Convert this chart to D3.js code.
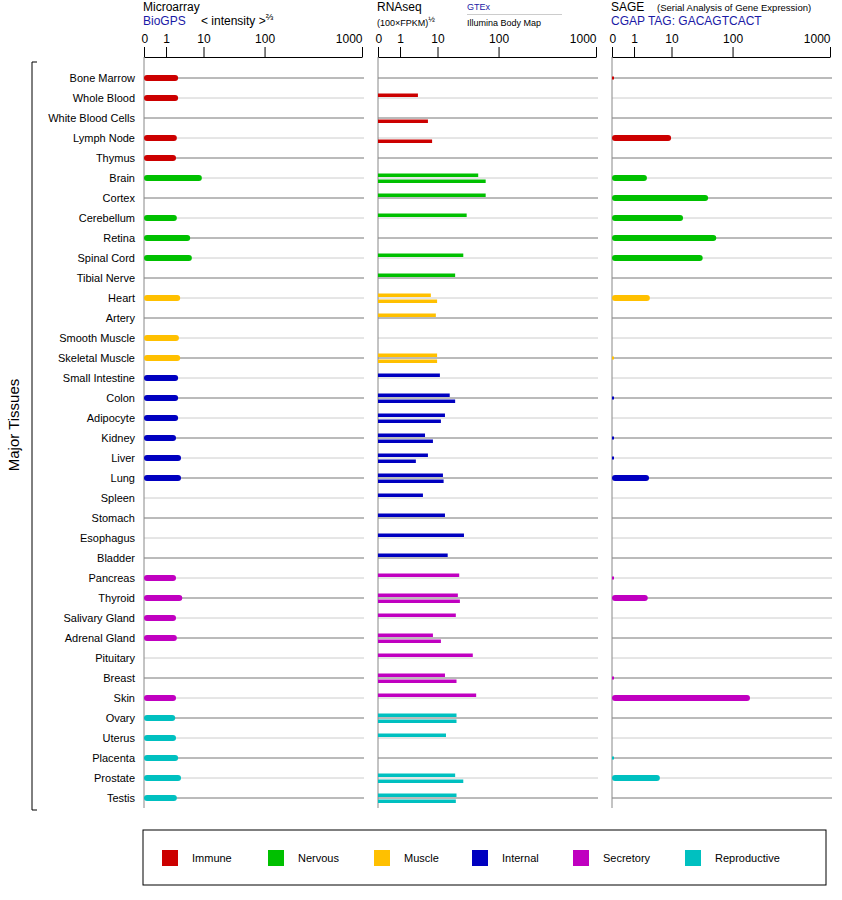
<!DOCTYPE html><html><head><meta charset="utf-8"><script src="https://cdn.jsdelivr.net/npm/d3@7"></script>
<style>body{margin:0;background:#fff}text{font-family:Arial,"Liberation Sans",sans-serif}</style></head><body><script>
const tissues=["Bone Marrow","Whole Blood","White Blood Cells","Lymph Node","Thymus","Brain","Cortex","Cerebellum","Retina","Spinal Cord","Tibial Nerve","Heart","Artery","Smooth Muscle","Skeletal Muscle","Small Intestine","Colon","Adipocyte","Kidney","Liver","Lung","Spleen","Stomach","Esophagus","Bladder","Pancreas","Thyroid","Salivary Gland","Adrenal Gland","Pituitary","Breast","Skin","Ovary","Uterus","Placenta","Prostate","Testis"];
const groups=["Immune","Immune","Immune","Immune","Immune","Nervous","Nervous","Nervous","Nervous","Nervous","Nervous","Muscle","Muscle","Muscle","Muscle","Internal","Internal","Internal","Internal","Internal","Internal","Internal","Internal","Internal","Internal","Secretory","Secretory","Secretory","Secretory","Secretory","Secretory","Secretory","Reproductive","Reproductive","Reproductive","Reproductive","Reproductive"];
const microarray=[3.9,3.9,null,3.6,3.4,9.6,null,3.6,6.8,7.2,null,4.4,null,4.1,4.4,3.9,3.9,3.9,3.4,4.6,4.6,null,null,null,null,3.4,4.9,3.4,3.6,null,null,3.4,3.2,3.4,3.9,4.6,3.6];
const gtex=[null,5.3,null,null,null,70,81,53,null,48,36,8.4,9.6,null,9.9,13.5,28,21,7.0,7.7,18,6.5,21,49,25,42,40,37,8.9,62,21,67,38,22.5,null,36,38];
const illumina=[null,null,7.7,8.7,null,81,null,null,null,null,null,9.9,null,null,9.9,null,36,15,8.9,4.8,19,null,null,null,null,null,43,null,15,null,38,null,38,null,null,48,37];
const sage=[0.1,null,null,9.9,null,4.1,64,27,76,56,null,4.8,null,null,0.05,null,0.1,null,0.1,0.1,4.6,null,null,null,null,0.1,4.3,null,null,null,0.1,261,null,null,0.1,7.2,null];
const tickVals=[0,1,10,100,1000];
const tickFrac=[0,0.101,0.273,0.553,1];
const groupNames=["Immune","Nervous","Muscle","Internal","Secretory","Reproductive"];
const groupColors=["#cc0000","#00c000","#ffc000","#0000c0","#c000c0","#00c0c0"];

const svg=d3.select("body").append("svg").attr("width",842).attr("height",900);
const color=d3.scaleOrdinal(groupNames,groupColors);
const y=d3.scalePoint(tissues,[78,798]);
const panels=[144,378,612],W=218,gridEnd=[364,598,832];
const xs=panels.map(p=>d3.scaleLinear(tickVals,tickFrac.map(f=>p+f*W)).clamp(true));

tissues.forEach((t,i)=>{panels.forEach((p,k)=>{svg.append("line").attr("x1",p).attr("x2",gridEnd[k]).attr("y1",y(t)).attr("y2",y(t)).attr("stroke",i%2?"#cccccc":"#777777").attr("stroke-width",1);});});
panels.forEach((p,k)=>{
 svg.append("line").attr("x1",p).attr("x2",p).attr("y1",57).attr("y2",808).attr("stroke","#888").attr("stroke-width",1);
 const g=svg.append("g").attr("transform","translate(0,57)");
 g.call(d3.axisTop(xs[k]).tickValues(tickVals).tickFormat(d3.format("d")).tickSize(10).tickSizeOuter(0));
 g.select(".domain").attr("stroke","#000");
 g.selectAll(".tick line").attr("stroke","#000");
 g.selectAll("text").attr("font-size",12).attr("fill","#000").attr("y",-14)
  .attr("text-anchor",d=>d===0?"start":d===1000?"end":"middle").attr("dx",d=>d===0?-3:0);
});
function roundBars(vals,k){
 const data=tissues.map((t,i)=>({t,v:vals[i],g:groups[i]})).filter(d=>d.v!=null);
 svg.append("g").selectAll("line").data(data.filter(d=>xs[k](d.v)-panels[k]>6)).join("line")
 .attr("x1",panels[k]+3).attr("x2",d=>xs[k](d.v)-3).attr("y1",d=>y(d.t)).attr("y2",d=>y(d.t))
 .attr("stroke",d=>color(d.g)).attr("stroke-width",6).attr("stroke-linecap","round");
 svg.append("g").selectAll("rect").data(data.filter(d=>xs[k](d.v)-panels[k]<=6)).join("rect")
 .attr("x",panels[k]).attr("width",2).attr("y",d=>y(d.t)-1.5).attr("height",3).attr("fill",d=>color(d.g));
}
roundBars(microarray,0);roundBars(sage,2);
function thinBars(vals,off){
 svg.append("g").selectAll("rect").data(tissues.map((t,i)=>({t,v:vals[i],g:groups[i]})).filter(d=>d.v!=null)).join("rect")
 .attr("x",panels[1]).attr("width",d=>xs[1](d.v)-panels[1]).attr("y",d=>y(d.t)+off-1.5).attr("height",3.5).attr("fill",d=>color(d.g));
}
thinBars(gtex,-3);thinBars(illumina,3);
svg.append("g").selectAll("text").data(tissues).join("text").attr("x",135).attr("y",d=>y(d)+4).attr("text-anchor","end").attr("font-size",11).text(d=>d);
svg.append("path").attr("d","M37,62 H32 V810 H37").attr("fill","none").attr("stroke","#000");
svg.append("text").attr("transform","translate(19,425) rotate(-90)").attr("text-anchor","middle").attr("font-size",15).text("Major Tissues");
const T=(x,yy,s,sz,c)=>svg.append("text").attr("x",x).attr("y",yy).attr("font-size",sz).attr("fill",c||"#000").text(s);
T(143,11,"Microarray",12);T(143,25,"BioGPS",12,"#1a1aa6");
const it=T(201,25,"< intensity >",12);it.append("tspan").attr("dy",-5).attr("font-size",9).text("⅔");
T(377,11,"RNAseq",12);const fp=T(377,26,"(100×FPKM)",9);fp.append("tspan").attr("dy",-4).attr("font-size",8).text("½");
T(467,10,"GTEx",9,"#1a1aa6");svg.append("line").attr("x1",467).attr("x2",562).attr("y1",14.5).attr("y2",14.5).attr("stroke","#ccc");
T(467,26,"Illumina Body Map",9);
T(611,11,"SAGE",12);T(657,11,"(Serial Analysis of Gene Expression)",9.5);T(611,25,"CGAP TAG: GACAGTCACT",12,"#1a1aa6");
svg.append("rect").attr("x",143).attr("y",830).attr("width",683).attr("height",55).attr("fill","none").attr("stroke","#000");
const lx=[162,268,374,472,573,685];
groupNames.forEach((n,i)=>{svg.append("rect").attr("x",lx[i]).attr("y",850).attr("width",16).attr("height",16).attr("fill",groupColors[i]);
 T(lx[i]+30,862,n,11);});
</script></body></html>
